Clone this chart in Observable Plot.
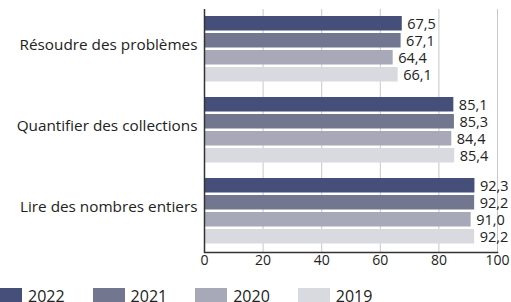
<!DOCTYPE html>
<html>
<head>
<meta charset="utf-8">
<script src="https://cdn.jsdelivr.net/npm/d3@7"></script>
<script src="https://cdn.jsdelivr.net/npm/@observablehq/plot@0.6"></script>
<style>
  body { margin: 0; background: #fff; font-family: "Open Sans", sans-serif; overflow: hidden; }
  #legend { display: flex; align-items: center; margin-left: -10px; padding-top: 4.5px; font-size: 16px; line-height: 18px; color: #222; }
  #legend .item { display: flex; align-items: center; margin-right: 28px; }
  #legend .sw { width: 32px; height: 15px; margin-right: 6px; }
</style>
</head>
<body>
<div id="chart"></div>
<div id="legend"></div>
<script>
const categories = ["Résoudre des problèmes", "Quantifier des collections", "Lire des nombres entiers"];
const years = ["2022", "2021", "2020", "2019"];
const values2022 = [67.5, 85.1, 92.3];
const values2021 = [67.1, 85.3, 92.2];
const values2020 = [64.4, 84.4, 91.0];
const values2019 = [66.1, 85.4, 92.2];
const colors = ["#464f7a", "#73768f", "#a7a9b8", "#d8dadf"];
const xTicks = [0, 20, 40, 60, 80, 100];

const seriesValues = [values2022, values2021, values2020, values2019];
const data = years.map((year, i) => categories.map((category, j) => ({year, category, value: seriesValues[i][j]})));
const fmt = v => v.toFixed(1).replace(".", ",");

const step = 17, barH = 15, bandW = 66.5;
const marks = [
  Plot.ruleX(xTicks.slice(1), {stroke: "#c8c8c8", strokeWidth: 1})
];
data.forEach((rows, i) => {
  marks.push(Plot.barX(rows, {
    x: "value", y: "category", fill: colors[i],
    insetTop: i * step, insetBottom: bandW - i * step - barH
  }));
  marks.push(Plot.text(rows, {
    x: "value", y: "category", text: d => fmt(d.value),
    dx: 5, dy: i * step + barH / 2 - bandW / 2 + 1,
    textAnchor: "start", fontSize: 14.5, fill: "#222"
  }));
});
marks.push(Plot.text(categories, {y: d => d, text: d => d, frameAnchor: "left", dx: -7, dy: -4, textAnchor: "end", fontSize: 15.3, fill: "#222"}));
marks.push(Plot.ruleX([0], {stroke: "#333", strokeWidth: 1.5}));
marks.push(Plot.frame({anchor: "bottom", stroke: "#333", strokeWidth: 1.5}));

const chart = Plot.plot({
  width: 511, height: 282,
  marginLeft: 204, marginRight: 14, marginTop: 9, marginBottom: 30,
  style: {fontFamily: "Open Sans, sans-serif", fontSize: "14px", color: "#222", background: "#fff"},
  x: {domain: [0, 100], ticks: xTicks, tickSize: 0, tickPadding: 3, label: null, tickFormat: d => String(d)},
  y: {domain: categories, paddingInner: 0.184, paddingOuter: 0.083, axis: null},
  marks
});
document.getElementById("chart").appendChild(chart);

const legend = document.getElementById("legend");
years.forEach((y, i) => {
  const item = document.createElement("div");
  item.className = "item";
  const sw = document.createElement("div");
  sw.className = "sw";
  sw.style.background = colors[i];
  const t = document.createElement("span");
  t.textContent = y;
  item.appendChild(sw); item.appendChild(t);
  legend.appendChild(item);
});
</script>
</body>
</html>
